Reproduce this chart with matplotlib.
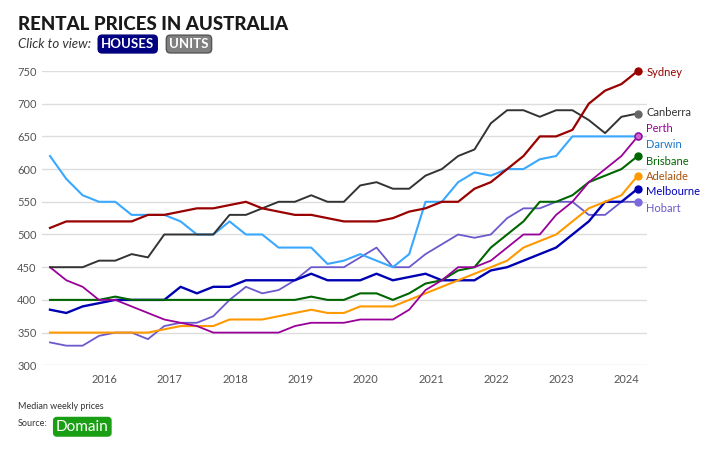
#!/usr/bin/env python3
import matplotlib
matplotlib.use("Agg")
import matplotlib.pyplot as plt

# quarterly medians, March 2015 .. March 2024
START = 2015 + 2 / 12
N = 37

SYDNEY = [510, 520, 520, 520, 520, 520, 530, 530, 535, 540, 540, 545, 550,
          540, 535, 530, 530, 525, 520, 520, 520, 525, 535, 540, 550,
          550, 570, 580, 600, 620, 650, 650, 660, 700, 720, 730, 750]
CANBERRA = [450, 450, 450, 460, 460, 470, 465, 500, 500, 500, 500, 530, 530,
            540, 550, 550, 560, 550, 550, 575, 580, 570, 570, 590, 600,
            620, 630, 670, 690, 690, 680, 690, 690, 675, 655, 680, 685]
PERTH = [450, 430, 420, 400, 400, 390, 380, 370, 365, 360, 350, 350, 350,
         350, 350, 360, 365, 365, 365, 370, 370, 370, 385, 415, 430,
         450, 450, 460, 480, 500, 500, 530, 550, 580, 600, 620, 650]
DARWIN = [620, 585, 560, 550, 550, 530, 530, 530, 520, 500, 500, 520, 500,
          500, 480, 480, 480, 455, 460, 470, 460, 450, 470, 550, 550,
          580, 595, 590, 600, 600, 615, 620, 650, 650, 650, 650, 650]
BRISBANE = [400, 400, 400, 400, 405, 400, 400, 400, 400, 400, 400, 400, 400,
            400, 400, 400, 405, 400, 400, 410, 410, 400, 410, 425, 430,
            445, 450, 480, 500, 520, 550, 550, 560, 580, 590, 600, 620]
ADELAIDE = [350, 350, 350, 350, 350, 350, 350, 355, 360, 360, 360, 370, 370,
            370, 375, 380, 385, 380, 380, 390, 390, 390, 400, 410, 420,
            430, 440, 450, 460, 480, 490, 500, 520, 540, 550, 560, 590]
MELBOURNE = [385, 380, 390, 395, 400, 400, 400, 400, 420, 410, 420, 420, 430,
             430, 430, 430, 440, 430, 430, 430, 440, 430, 435, 440, 430,
             430, 430, 445, 450, 460, 470, 480, 500, 520, 550, 550, 570]
HOBART = [335, 330, 330, 345, 350, 350, 340, 360, 365, 365, 375, 400, 420,
          410, 415, 430, 450, 450, 450, 465, 480, 450, 450, 470, 485,
          500, 495, 500, 525, 540, 540, 550, 550, 530, 530, 550, 550]

CITIES = ["Sydney", "Canberra", "Perth", "Darwin", "Brisbane", "Adelaide", "Melbourne", "Hobart"]
SERIES = [SYDNEY, CANBERRA, PERTH, DARWIN, BRISBANE, ADELAIDE, MELBOURNE, HOBART]
# label y positions (nudged apart like the original)
LABEL_Y = [747, 686, 662, 637, 612, 588, 565, 539]

STYLE = {
    "Sydney": {"line": "#990000", "dot": "#990000", "text": "#990000", "lw": 1.6},
    "Canberra": {"line": "#333333", "dot": "#666666", "text": "#333333", "lw": 1.4},
    "Perth": {"line": "#990099", "dot": "#cc66cc", "text": "#990099", "lw": 1.3},
    "Darwin": {"line": "#3aa8ff", "dot": "#3aa8ff", "text": "#1877c9", "lw": 1.5},
    "Brisbane": {"line": "#006600", "dot": "#006600", "text": "#006600", "lw": 1.5},
    "Adelaide": {"line": "#ff9900", "dot": "#ff9900", "text": "#a8520a", "lw": 1.5},
    "Melbourne": {"line": "#0000b3", "dot": "#0000b3", "text": "#0000b3", "lw": 1.7},
    "Hobart": {"line": "#6a5acd", "dot": "#7b68dd", "text": "#6a5acd", "lw": 1.3},
}
YEARS = list(range(2016, 2025))

plt.rcParams["font.family"] = ["Lato", "DejaVu Sans"]


def main():
    xs = [START + 0.25 * i for i in range(N)]
    fig = plt.figure(figsize=(7.17, 4.54), dpi=100)
    ax = fig.add_axes([0.0586, 0.1954, 0.8438, 0.6482])

    # draw in reverse so Sydney sits on top
    for city, vals in reversed(list(zip(CITIES, SERIES))):
        st = STYLE[city]
        ax.plot(xs, vals, color=st["line"], lw=st["lw"], clip_on=False, zorder=3)
        ax.plot(xs[-1], vals[-1], "o", ms=5, color=st["dot"],
                mec=st["line"] if city == "Perth" else st["dot"],
                mew=1.0, clip_on=False, zorder=5)

    for city, vals, ly in zip(CITIES, SERIES, LABEL_Y):
        st = STYLE[city]
        ax.annotate(city, xy=(xs[-1], vals[-1]), xytext=(xs[-1] + 0.13, ly),
                    textcoords="data", fontsize=8, color=st["text"], va="center",
                    annotation_clip=False,
                    arrowprops=dict(arrowstyle="-", ls=":", lw=0.8, color=st["line"],
                                    shrinkA=3, shrinkB=1))

    ax.set_xlim(START - 0.122, START + 9 + 0.142)
    ax.set_ylim(300, 750)
    ax.set_yticks(range(300, 751, 50))
    ax.set_xticks(YEARS)
    ax.set_xticklabels([str(y) for y in YEARS])
    ax.grid(axis="y", color="#dddddd", lw=1.0)
    ax.set_axisbelow(True)
    for sp in ax.spines.values():
        sp.set_visible(False)
    ax.tick_params(axis="both", length=0, labelsize=8, labelcolor="#555555")
    ax.tick_params(axis="y", pad=4)
    ax.tick_params(axis="x", pad=6)

    fig.text(0.025, 0.935, "RENTAL PRICES IN AUSTRALIA", fontsize=13.5, fontweight="black",
             color="#1a1a1a", va="baseline")
    fig.text(0.025, 0.903, "Click to view:", fontsize=9.5, style="italic", color="#333333",
             va="center")
    fig.text(0.141, 0.903, "HOUSES", fontsize=9.5, fontweight="bold", color="white", va="center",
             bbox=dict(boxstyle="round,pad=0.22,rounding_size=0.3", fc="#000080", ec="#000080"))
    fig.text(0.236, 0.903, "UNITS", fontsize=9.5, fontweight="bold", color="white", va="center",
             bbox=dict(boxstyle="round,pad=0.22,rounding_size=0.3", fc="#808080", ec="#555555"))

    fig.text(0.025, 0.105, "Median weekly prices", fontsize=6.5, color="#333333", va="center")
    fig.text(0.025, 0.068, "Source:", fontsize=6.5, color="#333333", va="center")
    fig.text(0.078, 0.060, "Domain", fontsize=11, color="white", va="center",
             bbox=dict(boxstyle="round,pad=0.15,rounding_size=0.2", fc="#1a9f14", ec="#1a9f14"))

    fig.savefig("out.png", dpi=100)
    plt.close(fig)


if __name__ == "__main__":
    main()
